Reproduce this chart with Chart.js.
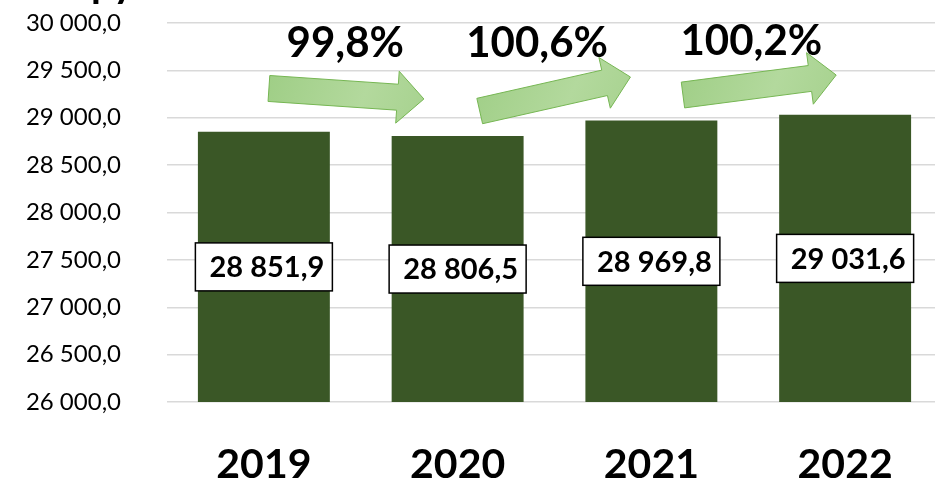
<!DOCTYPE html>
<html>
<head>
<meta charset="utf-8">
<script src="https://cdn.jsdelivr.net/npm/chart.js@4.4.1/dist/chart.umd.min.js"></script>
<style>
html,body{margin:0;padding:0;background:#fff;overflow:hidden;width:935px;height:481px}
#wrap{width:935px;height:481px;overflow:hidden;position:relative}
canvas{display:block}
</style>
</head>
<body>
<div id="wrap"><canvas id="c" width="944" height="481"></canvas></div>
<script>
// ---- data ----
const categories = ['2019', '2020', '2021', '2022'];
const values = [28851.9, 28806.5, 28969.8, 29031.6];
const growthLabels = ['99,8%', '100,6%', '100,2%'];
const yMin = 26000, yMax = 30000, yStep = 500;
const titleText = 'руб.';

// ---- decoration geometry (scale coordinates: category index, value) ----
const arrowGeom = [
  {tail: [0.026, 29309], tip: [0.826, 29198], text: [0.42, 29641]},
  {tail: [1.114, 29071], tip: [1.892, 29430], text: [1.41, 29641]},
  {tail: [2.163, 29240], tip: [2.954, 29451], text: [2.516, 29662]}
];

function fmt(v) {
  const s = Number(v).toFixed(1).split('.');
  const int = s[0].replace(/\B(?=(\d{3})+(?!\d))/g, ' ');
  return int + ',' + s[1];
}

const FONT = 'Lato, "Open Sans", "DejaVu Sans", sans-serif';

const decoPlugin = {
  id: 'deco',
  afterDatasetsDraw(chart) {
    const ctx = chart.ctx;
    const xs = chart.scales.x, ys = chart.scales.y;
    // value labels, centred in each bar
    const base = ys.getPixelForValue(yMin);
    values.forEach((v, i) => {
      const cx = xs.getPixelForValue(i);
      const top = ys.getPixelForValue(v);
      const cy = (top + base) / 2;
      const w = 137, h = 48;
      ctx.save();
      ctx.fillStyle = '#fff';
      ctx.strokeStyle = '#000';
      ctx.lineWidth = 1.5;
      ctx.fillRect(cx - w / 2, cy - h / 2, w, h);
      ctx.strokeRect(cx - w / 2, cy - h / 2, w, h);
      ctx.fillStyle = '#000';
      ctx.font = 'bold 29px ' + FONT;
      ctx.textAlign = 'center';
      ctx.textBaseline = 'middle';
      ctx.fillText(fmt(v), cx + 3, cy + 1);
      ctx.restore();
    });
    // arrows + growth text
    arrowGeom.forEach((g, i) => {
      const tx = xs.getPixelForValue(g.tail[0]), ty = ys.getPixelForValue(g.tail[1]);
      const px = xs.getPixelForValue(g.tip[0]), py = ys.getPixelForValue(g.tip[1]);
      const dx = px - tx, dy = py - ty;
      const len = Math.hypot(dx, dy);
      const ux = dx / len, uy = dy / len;
      const nx = -uy, ny = ux;
      const sh = 13, hh = 26, hl = 26.5;
      const bx = px - ux * hl, by = py - uy * hl;
      const pts = [
        [tx + nx * sh, ty + ny * sh],
        [bx + nx * sh, by + ny * sh],
        [bx + nx * hh, by + ny * hh],
        [px, py],
        [bx - nx * hh, by - ny * hh],
        [bx - nx * sh, by - ny * sh],
        [tx - nx * sh, ty - ny * sh]
      ];
      ctx.save();
      const minY = Math.min(...pts.map(p => p[1])), maxY = Math.max(...pts.map(p => p[1]));
      const grad = ctx.createLinearGradient(tx, minY, px, maxY);
      grad.addColorStop(0, '#9fce86');
      grad.addColorStop(0.6, '#b3d99d');
      grad.addColorStop(1, '#a7d28f');
      ctx.beginPath();
      pts.forEach((p, k) => k ? ctx.lineTo(p[0], p[1]) : ctx.moveTo(p[0], p[1]));
      ctx.closePath();
      ctx.fillStyle = grad;
      ctx.fill();
      ctx.strokeStyle = '#76b653';
      ctx.lineWidth = 1;
      ctx.stroke();
      ctx.fillStyle = '#000';
      ctx.font = 'bold 42px ' + FONT;
      ctx.textAlign = 'center';
      ctx.textBaseline = 'alphabetic';
      ctx.fillText(growthLabels[i], xs.getPixelForValue(g.text[0]), ys.getPixelForValue(g.text[1]));
      ctx.restore();
    });
    // cut-off title at the very top
    ctx.save();
    ctx.fillStyle = '#000';
    ctx.font = 'bold 40px ' + FONT;
    ctx.textAlign = 'left';
    ctx.textBaseline = 'alphabetic';
    ctx.fillText(titleText, 91, -3);
    ctx.restore();
  }
};

new Chart(document.getElementById('c'), {
  type: 'bar',
  data: {
    labels: categories,
    datasets: [{
      data: values,
      backgroundColor: '#3a5726',
      borderWidth: 0,
      categoryPercentage: 1,
      barPercentage: 0.681
    }]
  },
  options: {
    responsive: false,
    animation: false,
    devicePixelRatio: 1,
    layout: {padding: {left: 25, top: 23, right: 2, bottom: 0}},
    plugins: {legend: {display: false}, tooltip: {enabled: false}, title: {display: false}},
    scales: {
      x: {
        grid: {display: false, drawTicks: false},
        border: {display: false},
        ticks: {
          padding: 38,
          color: '#000',
          font: {family: FONT, size: 41, weight: 'bold'}
        },
        afterFit(s) { s.height = 79; s.paddingLeft = 0; s.paddingRight = 0; }
      },
      y: {
        min: yMin, max: yMax,
        grid: {color: '#d9d9d9', lineWidth: 1.5, drawTicks: false},
        border: {display: false},
        ticks: {
          stepSize: yStep,
          padding: 46,
          color: '#000',
          font: {family: FONT, size: 24},
          callback: v => fmt(v)
        },
        afterFit(s) { s.width = 142; s.paddingTop = 0; s.paddingBottom = 0; }
      }
    }
  },
  plugins: [decoPlugin]
});
</script>
</body>
</html>
